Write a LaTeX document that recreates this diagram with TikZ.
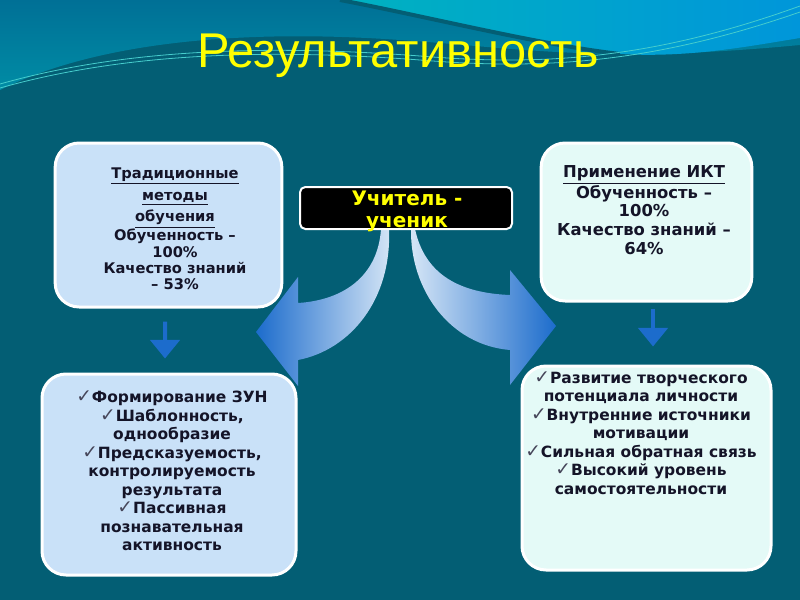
\documentclass[tikz,border=0pt]{standalone}
\usepackage{fontspec}
\setmainfont{DejaVu Sans}
\newfontfamily\titlefont{Liberation Sans}
\usetikzlibrary{arrows.meta}

\definecolor{bgdark}{RGB}{3,94,116}
\definecolor{wavemid}{RGB}{0,112,150}
\definecolor{wavelow}{RGB}{0,140,165}
\definecolor{wavecyan}{RGB}{0,178,192}
\definecolor{waveblue}{RGB}{0,150,218}
\definecolor{waveline}{RGB}{70,205,205}
\definecolor{paleblue}{RGB}{201,225,248}
\definecolor{palecyan}{RGB}{228,250,247}
\definecolor{inkdark}{RGB}{20,20,40}
\definecolor{chkgray}{RGB}{70,70,90}
\definecolor{arrowlight}{RGB}{214,230,246}
\definecolor{arrowblue}{RGB}{28,108,204}
\definecolor{titleyellow}{RGB}{255,255,0}

\newcommand{\chk}{{\mdseries\color{chkgray}\fontsize{14}{14}\selectfont ✓}}

\begin{document}
\begin{tikzpicture}[x=0.75pt,y=-0.75pt,
        card/.style={draw=white, line width=2.25pt, rounded corners=18pt},
        cardtext/.style={text=inkdark, align=center, font=\bfseries\fontsize{11.6}{13.9}\selectfont},
        downarrow/.style={draw=arrowblue, line width=3pt, -{Triangle[width=22pt,length=14pt]}}]
        \useasboundingbox (0,0) rectangle (800,600);

        % background and waves
        \fill[bgdark] (0,0) rectangle (800,600);
        \shade[top color=wavemid, bottom color=wavelow] (0,0) -- (0,90) .. controls (90,45) and (230,28) .. (400,40) .. controls (520,48) and (600,64) .. (800,45) -- (800,0) -- cycle;
        \shade[left color=wavecyan, right color=waveblue] (340,0) .. controls (420,15) and (540,45) .. (620,54) .. controls (690,58) and (750,46) .. (800,38) -- (800,0) -- cycle;
        \draw[bgdark, line width=3pt] (340,0) .. controls (420,15) and (540,45) .. (620,54);
        \draw[waveline, line width=0.6pt] (0,84) .. controls (120,50) and (260,44) .. (420,56) .. controls (540,66) and (650,60) .. (800,6);
        \draw[waveline, line width=0.6pt] (0,88) .. controls (120,54) and (260,48) .. (420,60) .. controls (540,70) and (650,64) .. (800,12);

        \node[titleyellow, font=\titlefont\fontsize{36.6}{40}\selectfont, anchor=base] (title) at (398,67) {Результативность};

        % cards
        \node[card, fill=paleblue, minimum width=170pt, minimum height=123pt] (trad) at (168.5,225) {};
        \node[card, fill=palecyan, minimum width=158pt, minimum height=118.5pt] (ikt) at (646.5,222) {};
        \node[card, fill=paleblue, minimum width=190.5pt, minimum height=150.75pt] (form) at (169,474.5) {};
        \node[card, fill=palecyan, minimum width=186.75pt, minimum height=153pt] (dev) at (646.5,468) {};

        \draw[downarrow, shorten <=9.75pt, shorten >=10.5pt] ([xshift=-2.6pt]trad.south) -- ([xshift=-3pt]form.north);
        \draw[downarrow, shorten <=4.5pt, shorten >=13.5pt] ([xshift=4.9pt]ikt.south) -- ([xshift=4.9pt]dev.north);

        % big curved arrows
        \shade[left color=arrowblue, right color=arrowlight] (381,229) .. controls (378,275) and (345,300) .. (298,303) -- (298,277) -- (256,332) -- (298,386) -- (298,360) .. controls (350,350) and (392,300) .. (389,229) -- cycle;
        \shade[left color=arrowlight, right color=arrowblue] (415,229) .. controls (425,275) and (460,293) .. (510,295) -- (510,270) -- (556,326) -- (510,385) -- (510,350) .. controls (450,345) and (410,290) .. (411,229) -- cycle;

        \node[draw=white, fill=black, line width=1.5pt, rounded corners=4pt, minimum width=159pt, minimum height=31.5pt] (role) at (406,208) {};
        \node[titleyellow, align=center, font=\bfseries\fontsize{15}{16.5}\selectfont] (roletxt) at (407,211) {Учитель -\\ ученик};

        % card texts
        \node[cardtext, font=\bfseries\fontsize{11}{12.3}\selectfont] (tradtxt) at (175,229) {\underline{Традиционные}\\[4pt] \underline{методы}\\[4pt] \underline{обучения}\\ Обученность –\\ 100\%\\ Качество знаний\\ – 53\%};
        \node[cardtext, font=\bfseries\fontsize{12.3}{14}\selectfont] (ikttxt) at (644,210) {\underline{Применение ИКТ}\\ Обученность –\\ 100\%\\ Качество знаний –\\ 64\%};
        \node[cardtext] (formtxt) at (172,471) {\chk Формирование ЗУН\\ \chk Шаблонность,\\ однообразие\\ \chk Предсказуемость,\\ контролируемость\\ результата\\ \chk Пассивная\hspace*{2em}\\ познавательная\\ активность};
        \node[cardtext] (devtxt) at (641,433) {\chk Развитие творческого\\ потенциала личности\\ \chk Внутренние источники\\ мотивации\\ \chk Сильная обратная связь\\ \chk Высокий уровень\\ самостоятельности};
\end{tikzpicture}
\end{document}
